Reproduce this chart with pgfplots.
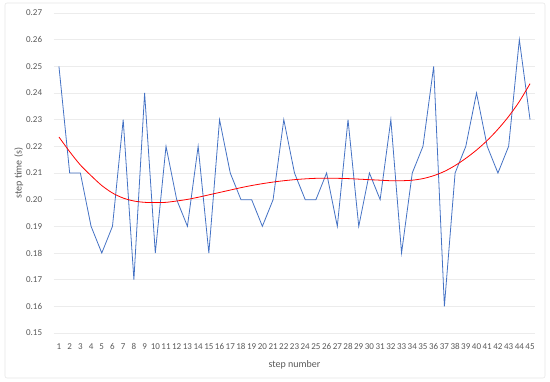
\documentclass[border=0pt]{standalone}
\usepackage{pgfplots}
\pgfplotsset{compat=1.18}
\usepackage{fontspec}
\setmainfont{Carlito}
\definecolor{xlblue}{RGB}{68,114,196}
\definecolor{xlred}{RGB}{255,0,0}
\definecolor{gridc}{RGB}{236,236,236}
\definecolor{txtc}{RGB}{89,89,89}
\begin{document}
\begin{tikzpicture}[x=1pt,y=1pt]
\useasboundingbox (-53.6,-49) rectangle (496.4,333);
\draw[rounded corners=2pt,draw={rgb,255:red,230;green,230;blue,230},line width=0.6pt] (-48.6,-45) rectangle (491.4,330);
\begin{axis}[
  at={(0,0)}, anchor=south west,
  scale only axis, width=481.8pt, height=320pt,
  xmin=0.5, xmax=45.5, ymin=0.15, ymax=0.27,
  xtick={1,...,45}, ytick={0.15,0.16,...,0.27},
  axis line style={draw=none}, tick style={draw=none},
  ymajorgrids, grid style={gridc, line width=0.6pt},
  /pgf/number format/assume math mode=true,
  y tick label style={/pgf/number format/fixed,/pgf/number format/fixed zerofill,/pgf/number format/precision=2, xshift=-8pt},
  ticklabel style={font=\fontsize{9}{10}\selectfont, text=txtc},
  xticklabel style={yshift=-7pt},
  xlabel={step number}, ylabel={step time (s)},
  label style={font=\fontsize{10}{12}\selectfont, text=txtc},
  xlabel style={yshift=-4pt},
  ylabel style={yshift=-4pt},
  clip=false,
]
\addplot[xlblue, line width=0.8pt, mark=none] coordinates {
(1,0.25)(2,0.21)(3,0.21)(4,0.19)(5,0.18)(6,0.19)(7,0.23)(8,0.17)(9,0.24)(10,0.18)
(11,0.22)(12,0.20)(13,0.19)(14,0.22)(15,0.18)(16,0.23)(17,0.21)(18,0.20)(19,0.20)(20,0.19)
(21,0.20)(22,0.23)(23,0.21)(24,0.20)(25,0.20)(26,0.21)(27,0.19)(28,0.23)(29,0.19)(30,0.21)
(31,0.20)(32,0.23)(33,0.18)(34,0.21)(35,0.22)(36,0.25)(37,0.16)(38,0.21)(39,0.22)(40,0.24)
(41,0.22)(42,0.21)(43,0.22)(44,0.26)(45,0.23)};
\addplot[xlred, line width=0.8pt, mark=none, smooth] coordinates {
(1,0.2235)(2,0.2180)(3,0.2130)(4,0.2090)(5,0.2053)(6,0.2025)(7,0.2006)(8,0.1995)(9,0.1990)(10,0.1989)
(11,0.1990)(12,0.1995)(13,0.2001)(14,0.2009)(15,0.2018)(16,0.2027)(17,0.2036)(18,0.2045)(19,0.2053)(20,0.2060)
(21,0.2066)(22,0.2071)(23,0.2075)(24,0.2078)(25,0.2080)(26,0.2080)(27,0.2080)(28,0.2079)(29,0.2077)(30,0.2075)
(31,0.2073)(32,0.2071)(33,0.2071)(34,0.2073)(35,0.2079)(36,0.2090)(37,0.2106)(38,0.2128)(39,0.2155)(40,0.2186)
(41,0.2222)(42,0.2264)(43,0.2312)(44,0.2368)(45,0.2435)};
\end{axis}
\end{tikzpicture}
\end{document}
